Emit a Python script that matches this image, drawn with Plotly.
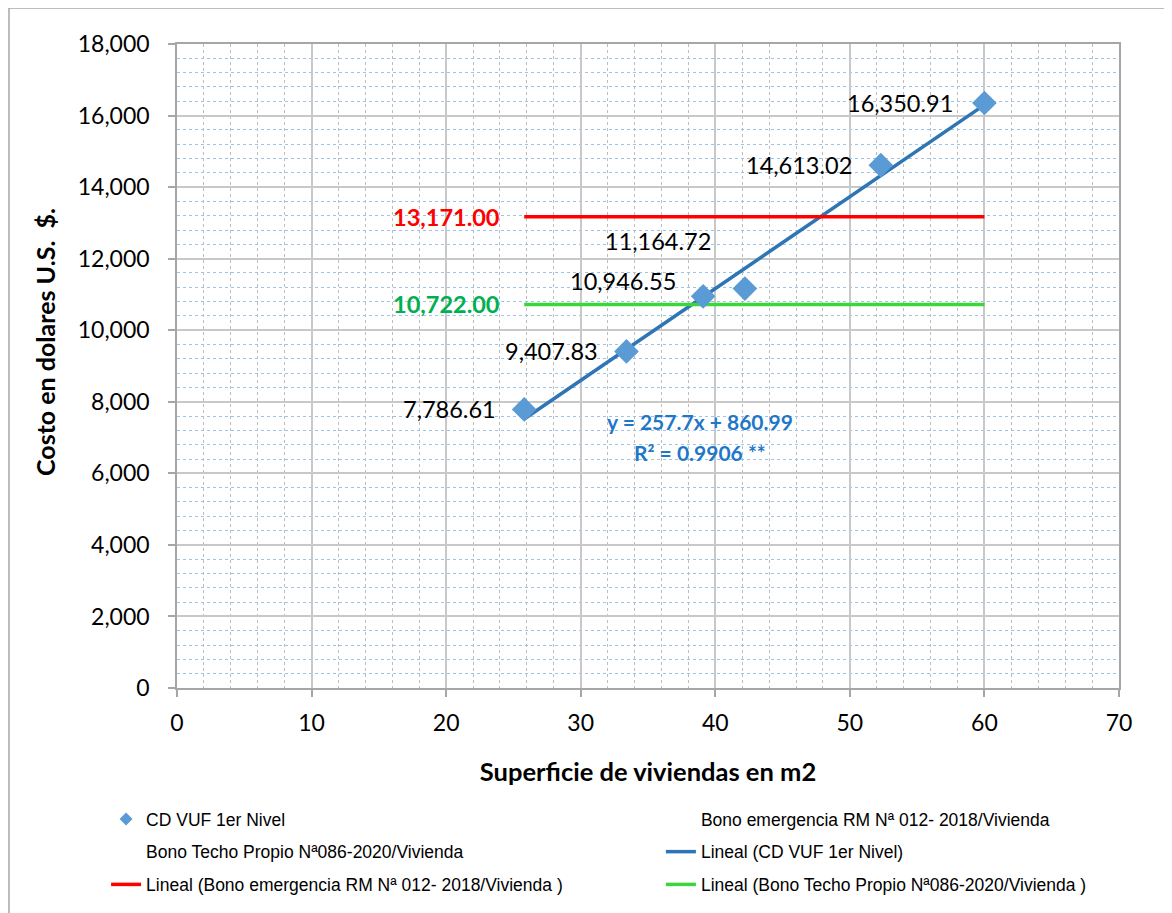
import numpy as np
import plotly.graph_objects as go

# ---- data ----
superficie = [25.8, 33.4, 39.1, 42.2, 52.3, 60.0]
costo = [7786.61, 9407.83, 10946.55, 11164.72, 14613.02, 16350.91]
bono_emergencia = 13171.00
bono_techo = 10722.00
x_range_lines = [25.8, 60.0]
serie_names = ["CD VUF 1er Nivel",
               "Bono emergencia RM Nª 012- 2018/Vivienda",
               "Bono Techo Propio Nª086-2020/Vivienda"]
x_title = "Superficie de viviendas en m2"
y_title = "Costo en dolares U.S.&nbsp;&nbsp;$."
equation_lines = ["y = 257.7x + 860.99", "R² = 0.9906 **"]
equation_y = [7462, 6596]

# label offsets (style)
label_offsets = [(-26, 0), (-26, 0), (-25, 15), (-32, 48), (-27, 0), (-29, 0)]

FONT = "Lato"
LEG_FONT = "Liberation Sans Narrow, Arial Narrow, Liberation Sans"

# linear fit of the data
slope, intercept = np.polyfit(superficie, costo, 1)
fit_x = np.array([min(superficie), max(superficie)])
fit_y = slope * fit_x + intercept

fig = go.Figure()

# legend column 1: items 1,3,5 ; column 2: items 2,4,6
fig.add_trace(go.Scatter(
    x=superficie, y=costo, mode="markers", name=serie_names[0],
    marker=dict(symbol="diamond", size=10, color="#5B9BD5"),
    legend="legend", legendgroup="a", legendrank=1,
))
fig.add_trace(go.Scatter(
    x=x_range_lines, y=[bono_emergencia] * 2, mode="markers", name=serie_names[1],
    marker=dict(size=1, color="rgba(0,0,0,0)"),
    legend="legend2", legendgroup="b", legendrank=1,
))
fig.add_trace(go.Scatter(
    x=x_range_lines, y=[bono_techo] * 2, mode="markers", name=serie_names[2],
    marker=dict(size=1, color="rgba(0,0,0,0)"),
    legend="legend", legendgroup="c", legendrank=2,
))
fig.add_trace(go.Scatter(
    x=fit_x, y=fit_y, mode="lines", name="Lineal (" + serie_names[0] + ")",
    line=dict(color="#2E75B6", width=3.5),
    legend="legend2", legendgroup="d", legendrank=2,
))
fig.add_trace(go.Scatter(
    x=x_range_lines, y=[bono_emergencia] * 2, mode="lines",
    name="Lineal (" + serie_names[1] + " )",
    line=dict(color="#FF0000", width=3.5),
    legend="legend", legendgroup="e", legendrank=3,
))
fig.add_trace(go.Scatter(
    x=x_range_lines, y=[bono_techo] * 2, mode="lines",
    name="Lineal (" + serie_names[2] + " )",
    line=dict(color="#3AD63A", width=3.5),
    legend="legend2", legendgroup="f", legendrank=3,
))
# big markers drawn on top of the trend line
fig.add_trace(go.Scatter(
    x=superficie, y=costo, mode="markers", showlegend=False, hoverinfo="skip",
    marker=dict(symbol="diamond", size=19, color="#5B9BD5"),
))

annotations = []
for xv, yv, (dx, dy) in zip(superficie, costo, label_offsets):
    annotations.append(dict(
        x=xv, y=yv, xref="x", yref="y", text=f"{yv:,.2f}", showarrow=False,
        xanchor="right", yanchor="middle", xshift=dx, yshift=dy,
        font=dict(family=FONT, size=23.5, color="black"),
    ))
annotations.append(dict(
    x=x_range_lines[0], y=bono_emergencia, xref="x", yref="y",
    text=f"<b>{bono_emergencia:,.2f}</b>", showarrow=False,
    xanchor="right", yanchor="middle", xshift=-22,
    font=dict(family=FONT, size=23.5, color="#FF0000"),
))
annotations.append(dict(
    x=x_range_lines[0], y=bono_techo, xref="x", yref="y",
    text=f"<b>{bono_techo:,.2f}</b>", showarrow=False,
    xanchor="right", yanchor="middle", xshift=-22,
    font=dict(family=FONT, size=23.5, color="#00B050"),
))
for txt, yv in zip(equation_lines, equation_y):
    annotations.append(dict(
        x=38.85, y=yv, xref="x", yref="y", text="<b>" + txt + "</b>",
        showarrow=False, xanchor="center", yanchor="middle",
        font=dict(family=FONT, size=21, color="#1F77C8"),
    ))

ML, MR, MT, MB = 169, 61, 36, 233
PW, PH = 1172 - ML - MR, 913 - MT - MB
border_y = 1 + MT / PH
border_x = (1 - ML) / PW

# y axis title as a rotated annotation (slightly above centre, as in the original)
annotations.append(dict(
    x=(37 - ML) / PW, y=(680 - 334) / PH, xref="paper", yref="paper",
    text="<b>" + y_title + "</b>", textangle=-90, showarrow=False,
    xanchor="center", yanchor="middle",
    font=dict(family=FONT, size=25, color="black"),
))

leg_common = dict(
    orientation="v", xanchor="left", yanchor="top",
    font=dict(family=LEG_FONT, size=17.5, color="black"),
    itemwidth=30, bgcolor="rgba(0,0,0,0)", tracegroupgap=7,
)

fig.update_layout(
    width=1172, height=913,
    margin=dict(l=ML, r=MR, t=MT, b=MB, autoexpand=False),
    paper_bgcolor="white", plot_bgcolor="white",
    font=dict(family=FONT, size=20, color="black"),
    showlegend=True,
    legend=dict(x=-0.0753, y=-0.1755, **leg_common),
    legend2=dict(x=0.5137, y=-0.1755, **leg_common),
    annotations=annotations,
    shapes=[
        dict(type="line", xref="paper", yref="paper",
             x0=border_x, x1=border_x, y0=border_y, y1=-1,
             line=dict(color="#A6A6A6", width=1.5)),
        dict(type="line", xref="paper", yref="paper",
             x0=border_x, x1=2, y0=border_y, y1=border_y,
             line=dict(color="#A6A6A6", width=1.5)),
    ],
)

fig.update_xaxes(
    range=[0, 70], dtick=10, tick0=0, showgrid=True, gridcolor="#C8C8C8", gridwidth=1.5,
    showline=True, linecolor="#A6A6A6", linewidth=1.5, mirror=True,
    ticks="outside", ticklen=7, tickcolor="#A6A6A6", tickwidth=1.5,
    ticklabelstandoff=7,
    tickfont=dict(family=FONT, size=23, color="black"),
    minor=dict(dtick=2, showgrid=True, gridcolor="#BDBDBD", griddash="dot", gridwidth=1),
    zeroline=False,
    title=dict(text="<b>" + x_title + "</b>", font=dict(family=FONT, size=25.5), standoff=28),
)
fig.update_yaxes(
    range=[0, 18000], dtick=2000, tick0=0, showgrid=True, gridcolor="#C8C8C8", gridwidth=1.5,
    showline=True, linecolor="#A6A6A6", linewidth=1.5, mirror=True,
    ticks="outside", ticklen=7, tickcolor="#A6A6A6", tickwidth=1.5,
    ticklabelstandoff=14, tickformat=",d",
    tickfont=dict(family=FONT, size=23, color="black"),
    minor=dict(dtick=400, showgrid=True, gridcolor="#9DC3E6", griddash="dot", gridwidth=1),
    zeroline=False,
)

fig.write_html("out.html")
